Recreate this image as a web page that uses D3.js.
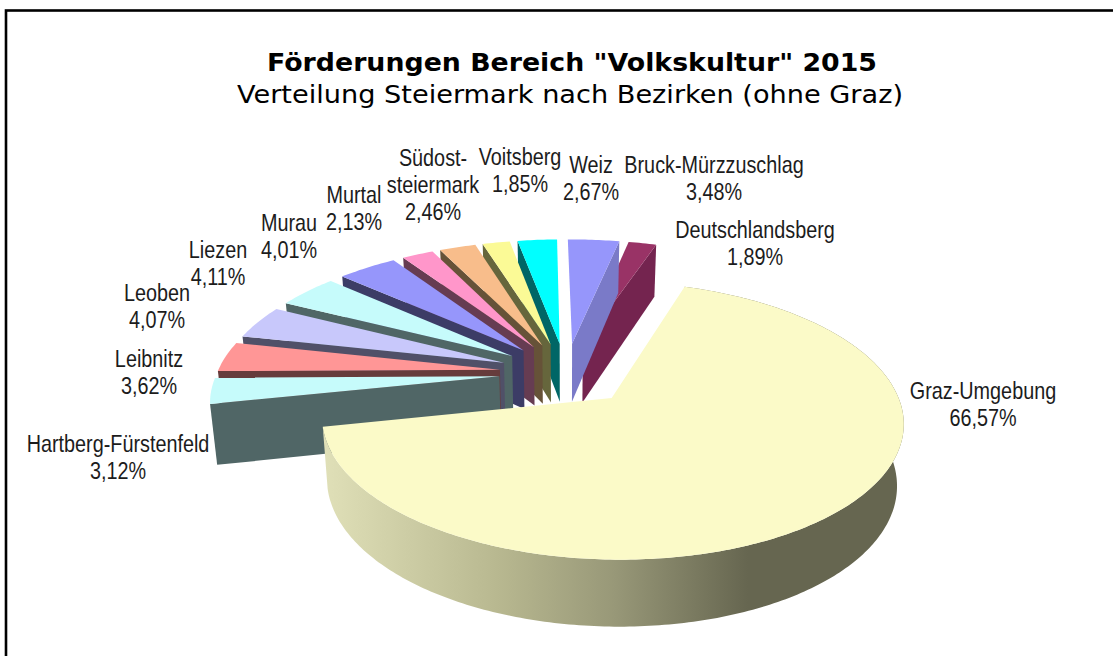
<!DOCTYPE html>
<html lang="de">
<head>
<meta charset="utf-8">
<title>Förderungen Bereich "Volkskultur" 2015</title>
<script src="https://cdn.jsdelivr.net/npm/d3@7"></script>
<style>
html,body{margin:0;padding:0;background:#fff;overflow:hidden}
svg{display:block}
.lab{font-family:"Liberation Sans",Arial,sans-serif;font-size:24px;fill:#1c1c1c;text-anchor:middle}
.ttl{font-family:"DejaVu Sans",Verdana,sans-serif;fill:#000;text-anchor:middle}
</style>
</head>
<body>
<svg id="chart" width="1113" height="656"></svg>
<script>
const titleText = 'Förderungen Bereich "Volkskultur" 2015';
const subtitleText = 'Verteilung Steiermark nach Bezirken (ohne Graz)';
const categories = ['Graz-Umgebung','Hartberg-Fürstenfeld','Leibnitz','Leoben','Liezen','Murau','Murtal','Südost-\nsteiermark','Voitsberg','Weiz','Bruck-Mürzzuschlag','Deutschlandsberg'];
const shares = [66.57,3.12,3.62,4.07,4.11,4.01,2.13,2.46,1.85,2.67,3.48,1.89];
const topColors = ['#fbfac8','#c6fbfb','#ff9696','#c8c8fb','#c6fbfb','#9696fb','#ff96ca','#f8bd8b','#fbfa96','#00ffff','#9696fb','#993366'];
const wallColors = ['#666650','#506666','#663c3c','#505068','#506666','#3c3c66','#663c52','#665238','#66663c','#006666','#7a7ac8','#74244f'];
const labelX = [983,118,149,157,218,289,354,433,520,591,714,755];
const labelY = [399,452,367,301,258,231,203,166,165,173,173,238];

const W = 1113, H = 656;
const proj = {cx:566, cy:373, R:282.6, A:129.4, p:0.159, depth:59.5, tilt:6.4, shrink:0.98};
const explode = 0.236;
const startDeg = 18.5;
const mainRadius = 0.985, mainShift = 0.012;
const fmt = v => d3.format('.2f')(v).replace('.', ',') + '%';

const svg = d3.select('#chart');

// Perspective projection of a disk point (u, v), z=0 top surface, z=1 bottom surface
function project(u, v, z) {
  const s = 1 / (1 - proj.p * v);
  const x = proj.R * u * s, y = proj.A * v * s;
  return z
    ? [proj.cx + x * proj.shrink, proj.cy + y + proj.depth + proj.tilt * v]
    : [proj.cx + x, proj.cy + y];
}
const line = d3.line();
const start = startDeg * Math.PI / 180;
const arcs = d3.pie().sort(null).startAngle(start).endAngle(start + 2 * Math.PI)(shares);
const mainIndex = d3.greatestIndex(shares);

arcs.forEach(a => {
  const isMain = a.index === mainIndex;
  const rad = isMain ? mainRadius : 1;
  a.mid = (a.startAngle + a.endAngle) / 2;
  a.ou = explode * Math.sin(a.mid);
  a.ov = -explode * Math.cos(a.mid) + (isMain ? mainShift : 0);
  a.rim = t => [a.ou + rad * Math.sin(t), a.ov - rad * Math.cos(t)];
  const n = Math.max(2, Math.ceil((a.endAngle - a.startAngle) / 0.015));
  a.ts = d3.range(n + 1).map(i => a.startAngle + (a.endAngle - a.startAngle) * i / n);
});

const defs = svg.append('defs');
const main = arcs[mainIndex];
const xL = project(...main.rim(main.endAngle), 0)[0];
const xR = proj.cx + proj.R * 1.2;
const grad = defs.append('linearGradient').attr('id','wallGrad')
  .attr('gradientUnits','userSpaceOnUse').attr('x1',xL).attr('x2',xR).attr('y1',0).attr('y2',0);
[[0,'#e0e0b8'],[0.3,'#b8b890'],[0.5,'#989878'],[0.73,'#666650'],[1,'#666650']]
  .forEach(([o,c]) => grad.append('stop').attr('offset',o).attr('stop-color',c));

const topPath = a => line([project(a.ou,a.ov,0), ...a.ts.map(t => project(...a.rim(t),0))]) + 'Z';
const edgeWall = (a,t) => {
  const r = a.rim(t);
  return line([project(a.ou,a.ov,0), project(...r,0), project(...r,1), project(a.ou,a.ov,1)]) + 'Z';
};
const rimWall = a => line([...a.ts.map(t => project(...a.rim(t),0)), ...a.ts.slice().reverse().map(t => project(...a.rim(t),1))]) + 'Z';

const left = arcs.filter(a => Math.sin(a.mid) < 0).sort((p,q) => q.startAngle - p.startAngle);
const right = arcs.filter(a => Math.sin(a.mid) >= 0 && a !== main).sort((p,q) => q.startAngle - p.startAngle);

const pieG = svg.append('g');
left.forEach(a => {
  pieG.append('path').attr('d', edgeWall(a,a.startAngle)).attr('fill',wallColors[a.index]);
  pieG.append('path').attr('d', topPath(a)).attr('fill',topColors[a.index]);
});
right.forEach(a => {
  pieG.append('path').attr('d', edgeWall(a,a.endAngle)).attr('fill',wallColors[a.index]);
  pieG.append('path').attr('d', topPath(a)).attr('fill',topColors[a.index]);
});
pieG.append('path').attr('d', rimWall(main)).attr('fill','url(#wallGrad)');
pieG.append('path').attr('d', topPath(main)).attr('fill',topColors[main.index]);

// frame: only top and left edges fall inside the picture
svg.append('rect').attr('x',6).attr('y',10.5).attr('width',W+20).attr('height',H+20)
  .attr('fill','none').attr('stroke','#000').attr('stroke-width',2.6);

// titles
svg.append('text').attr('class','ttl').attr('x',572).attr('y',71)
  .attr('font-size',25.5).attr('font-weight','bold')
  .attr('textLength',610).attr('lengthAdjust','spacingAndGlyphs').text(titleText);
svg.append('text').attr('class','ttl').attr('x',570).attr('y',103)
  .attr('font-size',25.5)
  .attr('textLength',666).attr('lengthAdjust','spacingAndGlyphs').text(subtitleText);

// labels
const lineH = 27;
categories.forEach((c,i) => {
  const rows = [...c.split('\n'), fmt(shares[i])];
  rows.forEach((r,j) => {
    svg.append('text').attr('class','lab')
      .attr('transform',`translate(${labelX[i]},${labelY[i]+j*lineH}) scale(0.825,1)`)
      .text(r);
  });
});
</script>
</body>
</html>
